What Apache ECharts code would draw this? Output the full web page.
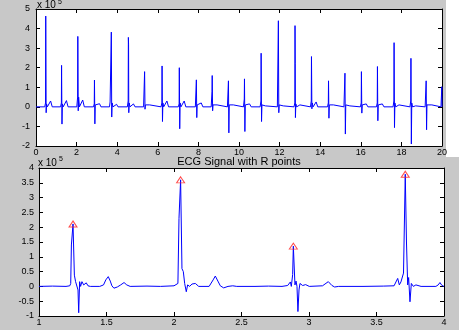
<!DOCTYPE html>
<html>
<head>
<meta charset="utf-8">
<script src="https://cdn.jsdelivr.net/npm/echarts@6/dist/echarts.min.js"></script>
<style>
html,body{margin:0;padding:0;background:#c8c8c8;}
#chart{width:459px;height:330px;}
</style>
</head>
<body>
<div id="chart"></div>
<script>
// ---- Data (values in units of 10^5) ----
const topXTicks = [0, 2, 4, 6, 8, 10, 12, 14, 16, 18, 20];
const topYTicks = [-2, -1, 0, 1, 2, 3, 4, 5];
const bottomXTicks = [1, 1.5, 2, 2.5, 3, 3.5, 4];
const bottomYTicks = [-1, -0.5, 0, 0.5, 1, 1.5, 2, 2.5, 3, 3.5, 4];

// Full 20 s ECG record (top panel)
const topSignal = [
[0,0],[0.43,0],[0.47,0.2],[0.48,4.64],[0.50,-0.3],[0.52,0.15],[0.56,0],[0.72,0.3],[0.80,0],
[1.21,0],[1.25,0.2],[1.26,2.12],[1.28,-0.88],[1.30,0.15],[1.34,0],[1.50,0.32],[1.58,0],
[2.01,0],[2.05,0.5],[2.06,3.6],[2.08,-0.2],[2.10,0.5],[2.14,0],[2.30,0.35],[2.38,0],
[2.83,0],[2.87,0.15],[2.88,1.37],[2.90,-0.87],[2.92,0.1],[2.96,0],[3.13,0.16],[3.20,0],
[3.62,0],[3.65,0.25],[3.70,0.3],[3.71,3.82],[3.73,-0.52],[3.75,0.2],[3.79,0],[3.97,0.13],[4.04,0],
[4.50,0],[4.54,0.3],[4.55,3.55],[4.56,3.2],[4.57,-0.3],[4.59,0.2],[4.63,0],[4.80,0.15],[4.88,0],
[5.30,0],[5.34,0.1],[5.35,1.8],[5.37,-0.12],[5.39,0.1],[5.43,0],[5.60,0.1],[5.68,0],
[6.16,0],[6.20,0.2],[6.21,2.09],[6.23,-0.75],[6.25,0.2],[6.29,0],[6.45,0.3],[6.53,0],
[7.01,0],[7.05,0.15],[7.06,2.0],[7.08,-1.12],[7.10,0.2],[7.14,0],[7.30,0.3],[7.38,0],
[7.85,0],[7.89,0.1],[7.90,1.38],[7.92,-0.55],[7.94,0.1],[7.98,0],[8.14,0.2],[8.22,0],
[8.63,0],[8.67,0.8],[8.68,1.6],[8.70,-0.2],[8.72,0.1],[8.76,0],[8.92,0.1],[9.00,0],
[9.43,0],[9.47,0.1],[9.48,1.33],[9.50,-1.33],[9.52,0.1],[9.56,0],[9.72,0.1],[9.80,0],
[10.22,0],[10.26,0.4],[10.27,1.43],[10.29,-1.26],[10.31,0.1],[10.35,0],[10.52,0.15],[10.60,0],
[11.04,0],[11.08,0.3],[11.09,2.74],[11.11,-0.75],[11.13,0.1],[11.17,0],[11.30,0.05],[11.38,0],
[11.89,0],[11.93,0.1],[11.94,4.4],[11.96,-0.3],[11.98,0.1],[12.02,0],[12.18,0.05],[12.26,0],
[12.71,0],[12.75,0.2],[12.76,4.15],[12.77,2.2],[12.78,-0.55],[12.80,0.15],[12.84,0],[13.00,0.1],[13.08,0],
[13.52,0],[13.56,0.3],[13.57,2.57],[13.59,-0.1],[13.61,0.2],[13.65,0],[13.80,0.25],[13.88,0],
[14.36,0],[14.40,0.2],[14.41,1.33],[14.43,-0.58],[14.45,0.1],[14.49,0],[14.65,0.1],[14.73,0],
[15.17,0],[15.21,0.1],[15.22,1.72],[15.24,-1.39],[15.26,0.1],[15.30,0],[15.46,0.05],[15.54,0],
[15.98,0],[16.02,0.2],[16.03,1.8],[16.05,-0.32],[16.07,0.1],[16.11,0],[16.27,0.15],[16.35,0],
[16.77,0],[16.81,0.2],[16.82,2.06],[16.84,-0.71],[16.86,0.1],[16.90,0],[17.06,0.15],[17.14,0],
[17.59,0],[17.63,0.3],[17.64,3.28],[17.66,-1.06],[17.68,0.2],[17.72,0],[17.88,0.1],[17.96,0],
[18.42,0],[18.46,0.3],[18.47,2.48],[18.49,-1.9],[18.51,0.2],[18.55,0],[18.70,0.05],[18.78,0],
[19.17,0],[19.21,0.1],[19.22,1.33],[19.24,-1.17],[19.26,0.1],[19.30,0],[19.50,0.1],[19.58,0],
[19.95,0],[19.99,1.03],[20.0,0]
];

// Zoomed 1-4 s segment (bottom panel)
const bottomSignal = [
[1.00,0],[1.10,0.01],[1.20,0],[1.228,0.02],[1.235,0.10],[1.240,1.40],[1.252,2.11],[1.262,0.38],
[1.271,0.16],[1.281,0.10],[1.289,-0.12],[1.294,-0.89],[1.301,0.16],[1.308,0.00],[1.318,0.16],
[1.331,0.05],[1.350,0.12],[1.363,0.02],[1.380,0],[1.450,0],[1.478,0.05],[1.495,0.22],[1.513,0.33],
[1.528,0.18],[1.540,0.02],[1.555,-0.06],[1.580,-0.02],[1.605,0.05],[1.630,0.13],[1.650,0.05],
[1.675,0],[1.80,0.01],[1.90,0],[2.00,0.02],[2.010,0.05],[2.029,0.10],[2.037,2.30],[2.049,3.60],
[2.059,0.60],[2.069,0.50],[2.079,0.10],[2.091,-0.18],[2.101,0.05],[2.116,0.00],[2.133,0.08],
[2.158,0.10],[2.183,0],[2.260,0],[2.274,0.05],[2.290,0.22],[2.306,0.35],[2.325,0.18],[2.343,0.02],
[2.368,-0.05],[2.400,0],[2.435,0.02],[2.448,0.07],[2.465,0],[2.60,0],[2.70,0.01],[2.80,0],
[2.842,0.03],[2.854,0.05],[2.862,0.15],[2.869,0.00],[2.879,0.40],[2.884,1.36],[2.896,0.05],
[2.904,0.18],[2.911,0.00],[2.918,-0.85],[2.926,-0.12],[2.933,0.10],[2.953,0.03],[2.975,0.06],
[3.002,0],[3.100,0.02],[3.113,0.05],[3.143,0.16],[3.170,0.03],[3.190,-0.02],[3.22,0],[3.40,0],
[3.55,0.01],[3.630,0.02],[3.644,0.05],[3.657,0.27],[3.669,0.05],[3.681,0.15],[3.700,0.45],
[3.713,3.79],[3.722,1.50],[3.731,0.05],[3.738,0.30],[3.748,-0.52],[3.758,0.10],[3.773,0.00],
[3.792,0.05],[3.800,0.10],[3.83,0],[3.94,0],[3.957,0.05],[3.970,0.13],[3.985,0.03],[4.00,0]
];

// Detected R points (bottom panel markers)
const rPeakTimes = [1.252, 2.049, 2.884, 3.713];
const rPeakValues = [2.11, 3.60, 1.36, 3.79];

const titleText = 'ECG Signal with R points';
const scaleText = 'x 10';
const scaleExp = '5';

// ---- Chart ----
const FONT = '"Liberation Sans", Arial, sans-serif';
function axis(base, extra) {
  return Object.assign({
    type: 'value',
    axisLine: { show: true, onZero: false, lineStyle: { color: '#000', width: 1 } },
    axisTick: { show: true, inside: true, length: 4, lineStyle: { color: '#000', width: 1 } },
    splitLine: { show: false },
    axisLabel: { show: true, color: '#000', fontSize: 9, fontFamily: FONT }
  }, base, extra || {});
}
function hidden() { return { axisLabel: { show: false } }; }
function tickRange(arr) {
  return { min: arr[0], max: arr[arr.length - 1], interval: arr[1] - arr[0] };
}
function lbl(margin) {
  return { axisLabel: { color: '#000', fontSize: 9, fontFamily: FONT, margin: margin } };
}

const chart = echarts.init(document.getElementById('chart'), null, { renderer: 'canvas' });
const rPoints = rPeakTimes.map((t, i) => [t, rPeakValues[i]]);

chart.setOption({
  animation: false,
  backgroundColor: '#c8c8c8',
  grid: [
    { left: 36, top: 9, width: 406, height: 137, show: true, backgroundColor: '#fff', borderWidth: 0 },
    { left: 39, top: 168, width: 405, height: 148, show: true, backgroundColor: '#fff', borderWidth: 0 }
  ],
  xAxis: [
    axis(Object.assign({ gridIndex: 0, position: 'bottom' }, tickRange(topXTicks)), lbl(2)),
    axis(Object.assign({ gridIndex: 0, position: 'top' }, tickRange(topXTicks)), hidden()),
    axis(Object.assign({ gridIndex: 1, position: 'bottom' }, tickRange(bottomXTicks)), lbl(2)),
    axis(Object.assign({ gridIndex: 1, position: 'top' }, tickRange(bottomXTicks)), hidden())
  ],
  yAxis: [
    axis(Object.assign({ gridIndex: 0, position: 'left' }, tickRange(topYTicks)), lbl(6)),
    axis(Object.assign({ gridIndex: 0, position: 'right' }, tickRange(topYTicks)), hidden()),
    axis(Object.assign({ gridIndex: 1, position: 'left' }, tickRange(bottomYTicks)), lbl(5)),
    axis(Object.assign({ gridIndex: 1, position: 'right' }, tickRange(bottomYTicks)), hidden())
  ],
  series: [
    {
      type: 'line', xAxisIndex: 0, yAxisIndex: 0, data: topSignal,
      showSymbol: false, symbol: 'none', lineStyle: { color: '#0000ff', width: 1 }, z: 3
    },
    {
      type: 'line', xAxisIndex: 2, yAxisIndex: 2, data: bottomSignal,
      showSymbol: false, symbol: 'none', lineStyle: { color: '#0000ff', width: 1 }, z: 3
    },
    {
      type: 'scatter', xAxisIndex: 2, yAxisIndex: 2, data: rPoints,
      symbol: 'triangle', symbolSize: [8, 6],
      itemStyle: { color: 'rgba(255,255,255,0)', borderColor: '#ff2020', borderWidth: 1 }, z: 4
    }
  ],
  graphic: [
    { type: 'rect', shape: { x: 446, y: 0, width: 13, height: 157 }, style: { fill: '#ffffff' }, z: 0 },
    { type: 'text', x: 37, y: 5, z: 10,
      style: { text: scaleText, fontSize: 10, fontFamily: FONT, fill: '#000', verticalAlign: 'middle' } },
    { type: 'text', x: 58, y: 2, z: 10,
      style: { text: scaleExp, fontSize: 7, fontFamily: FONT, fill: '#000', verticalAlign: 'middle' } },
    { type: 'text', x: 38, y: 163, z: 10,
      style: { text: scaleText, fontSize: 10, fontFamily: FONT, fill: '#000', verticalAlign: 'middle' } },
    { type: 'text', x: 59, y: 159, z: 10,
      style: { text: scaleExp, fontSize: 7, fontFamily: FONT, fill: '#000', verticalAlign: 'middle' } },
    { type: 'text', x: 239, y: 162, z: 10,
      style: { text: titleText, fontSize: 11, fontFamily: FONT, fill: '#000', align: 'center', verticalAlign: 'middle' } }
  ]
});
</script>
</body>
</html>
